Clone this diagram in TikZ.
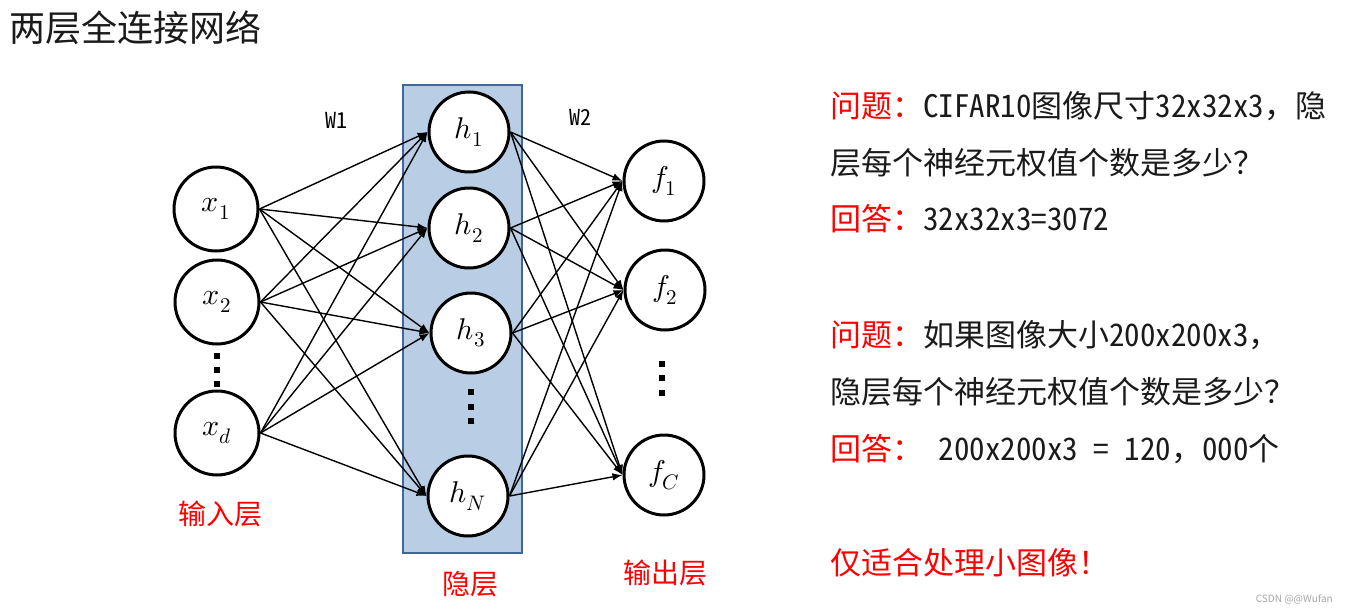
\documentclass[tikz,border=0pt]{standalone}
\usepackage{fontspec}
\usepackage{unicode-math}
\setmainfont{Noto Sans CJK SC}
\newfontfamily\hw{Noto Sans CJK SC}[RawFeature=+hwid]
\usetikzlibrary{arrows.meta}
\definecolor{qred}{HTML}{FF0000}
\definecolor{ink}{HTML}{1A1A1A}
\definecolor{boxfill}{HTML}{B9CDE5}
\definecolor{boxdraw}{HTML}{41669B}
\tikzset{
  neuron/.style={circle, draw=black, line width=3pt, fill=white, inner sep=0pt,
    font=\fontsize{30}{32}\selectfont},
  inneuron/.style={neuron, minimum size=84pt},
  hidneuron/.style={neuron, minimum size=80pt},
  outneuron/.style={neuron, minimum size=80pt},
  link/.style={line width=1.4pt, -{Latex[length=10pt,width=7.5pt]}},
  layerlabel/.style={text=qred, font=\fontsize{28}{28}\selectfont, inner sep=0pt},
  wlabel/.style={font=\hw\fontsize{22}{22}\selectfont, inner sep=0pt},
  qline/.style={anchor=west, inner sep=0pt, text=ink, font=\fontsize{31}{31}\selectfont},
  vdot/.style={fill=black}
}
\begin{document}
\begin{tikzpicture}[x=1pt, y=-1pt]
\useasboundingbox (0,0) rectangle (1347,613);
\fill[white] (0,0) rectangle (1347,613);

% title
\node[anchor=west, inner sep=0pt, text=ink, font=\fontsize{36}{36}\selectfont] (title) at (9,28) {两层全连接网络};

% hidden layer panel
\draw[boxdraw, fill=boxfill, line width=2.4pt] (403,85) rectangle (522,553);

% neurons
\node[inneuron] (x1) at (216,209) {$x_1$};
\node[inneuron] (x2) at (217,302) {$x_2$};
\node[inneuron] (xd) at (217,433) {$x_d$};

\node[hidneuron] (h1) at (469,132) {$h_1$};
\node[hidneuron] (h2) at (469,228) {$h_2$};
\node[hidneuron] (h3) at (471,333) {$h_3$};
\node[hidneuron] (hN) at (468,496) {$h_N$};

\node[outneuron] (f1) at (664,181) {$f_1$};
\node[outneuron] (f2) at (665,290) {$f_2$};
\node[outneuron] (fC) at (664,475) {$f_C$};

% weights: every input to every hidden unit, every hidden unit to every output
\foreach \s in {x1,x2,xd}
  \foreach \t in {h1,h2,h3,hN}
    \draw[link] (\s.east) -- (\t.west);
\foreach \s in {h1,h2,h3,hN}
  \foreach \t in {f1,f2,fC}
    \draw[link] (\s.east) -- (\t.west);

% vertical ellipses
\foreach \y in {353,367,381}
  \fill[vdot] (214,\y) rectangle +(6,6);
\foreach \y in {389,404,418}
  \fill[vdot] (468,\y) rectangle +(6,6);
\foreach \y in {361,375,390}
  \fill[vdot] (659,\y) rectangle +(6,6);

% labels
\node[wlabel] (w1) at (336,120) {W1};
\node[wlabel] (w2) at (580,117) {W2};
\node[layerlabel] (lin) at (220,514) {输入层};
\node[layerlabel] (lhid) at (470,584) {隐层};
\node[layerlabel] (lout) at (665,573) {输出层};

% questions and answers
\node[qline] (q1a) at (830,106) {\textcolor{qred}{问题：}{\hw CIFAR10}图像尺寸{\hw 32x32x3}，隐};
\node[qline] (q1b) at (830,163) {层每个神经元权值个数是多少？};
\node[qline] (a1) at (830,219) {\textcolor{qred}{回答：}{\hw 32x32x3=3072}};
\node[qline] (q2a) at (830,335) {\textcolor{qred}{问题：}如果图像大小{\hw 200x200x3}，};
\node[qline] (q2b) at (830,392) {隐层每个神经元权值个数是多少？};
\node[qline] (a2) at (830,449) {\textcolor{qred}{回答：}{\hw\ 200x200x3 = 120}，{\hw 000}个};
\node[qline, text=qred] (note) at (830,563) {仅适合处理小图像！};

\node[anchor=east, inner sep=0pt, text=gray!70, font=\fontsize{10}{10}\selectfont] (mark) at (1333,599) {CSDN @@Wufan};
\end{tikzpicture}
\end{document}
